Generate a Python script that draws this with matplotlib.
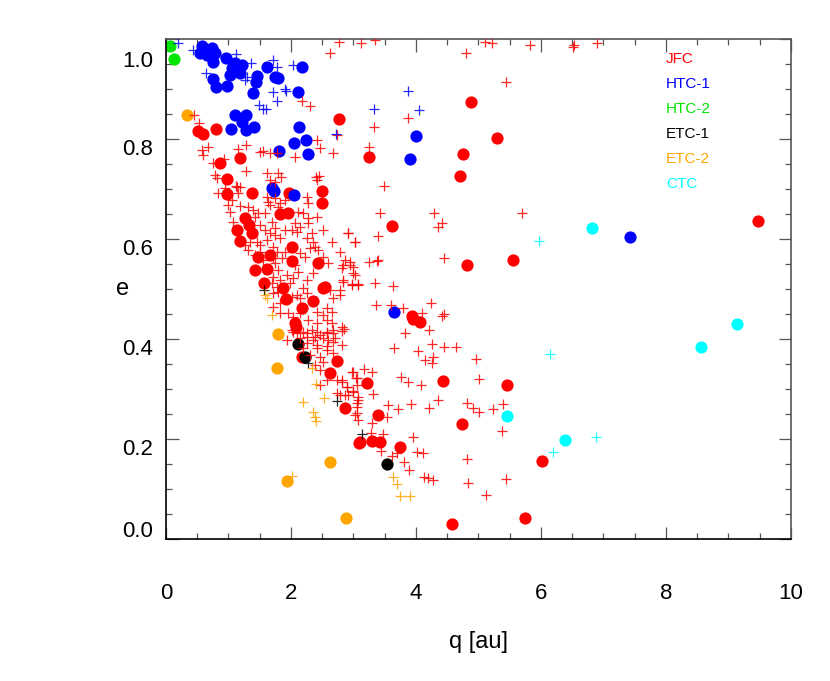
import matplotlib
matplotlib.use("Agg")
import matplotlib.pyplot as plt
import matplotlib.transforms as mtransforms
from matplotlib.ticker import MultipleLocator

plt.rcParams['font.family'] = ['Liberation Sans', 'DejaVu Sans']

# categories and colours
groups = ["JFC", "HTC-1", "HTC-2", "ETC-1", "ETC-2", "CTC"]
colors = ["#ff0000", "#0000ff", "#00e600", "#000000", "#ffa500", "#00ffff"]

# (q [au], e)
# big filled circles
jfc_dot = [(2.77, 0.840), (0.52, 0.815), (0.60, 0.809), (0.80, 0.819), (0.87, 0.751),
           (1.18, 0.761), (0.98, 0.719), (0.98, 0.689), (1.38, 0.691), (1.97, 0.692),
           (2.50, 0.695), (2.49, 0.671), (1.26, 0.641), (1.33, 0.627), (1.13, 0.617),
           (1.37, 0.612), (1.18, 0.596), (1.82, 0.649), (1.96, 0.651), (2.02, 0.584),
           (2.01, 0.556), (2.43, 0.551), (1.66, 0.567), (1.47, 0.563), (1.42, 0.537),
           (1.61, 0.539), (1.57, 0.511), (1.88, 0.501), (1.92, 0.479), (2.51, 0.501),
           (2.54, 0.504), (2.36, 0.475), (2.17, 0.462), (2.06, 0.431), (2.08, 0.424),
           (2.17, 0.364), (2.74, 0.355), (2.62, 0.331), (2.87, 0.261), (3.09, 0.192),
           (4.88, 0.873), (5.30, 0.801), (4.75, 0.769), (4.71, 0.725), (3.25, 0.763),
           (3.62, 0.625), (4.82, 0.547), (5.55, 0.557), (3.93, 0.445), (3.95, 0.439),
           (4.07, 0.434), (4.43, 0.315), (5.46, 0.307), (3.21, 0.312), (3.40, 0.247),
           (4.74, 0.229), (3.10, 0.193), (3.30, 0.195), (3.42, 0.193), (3.75, 0.184),
           (6.02, 0.156), (4.58, 0.029), (5.75, 0.042), (9.48, 0.636)]
htc1_dot = [(0.57, 0.985), (0.73, 0.981), (0.54, 0.971), (0.65, 0.967), (0.78, 0.971),
            (0.76, 0.954), (0.96, 0.961), (1.10, 0.951), (1.21, 0.947), (1.05, 0.941),
            (1.18, 0.931), (1.02, 0.927), (0.76, 0.919), (0.80, 0.904), (0.98, 0.905),
            (1.45, 0.925), (1.44, 0.914), (1.39, 0.891), (1.62, 0.943), (1.74, 0.924),
            (1.80, 0.921), (2.18, 0.943), (2.11, 0.893), (1.10, 0.847), (1.28, 0.847),
            (1.04, 0.820), (1.28, 0.817), (1.41, 0.823), (1.21, 0.834), (2.13, 0.823),
            (2.24, 0.797), (2.05, 0.791), (1.81, 0.776), (2.28, 0.769), (1.69, 0.701),
            (1.73, 0.696), (2.05, 0.687), (4.00, 0.805), (3.91, 0.760), (3.65, 0.453),
            (7.42, 0.603)]
htc2_dot = [(0.06, 0.985), (0.13, 0.959)]
etc1_dot = [(2.11, 0.389), (2.23, 0.364), (3.54, 0.149)]
etc2_dot = [(0.34, 0.848), (1.80, 0.409), (1.78, 0.342), (2.62, 0.154), (1.94, 0.116),
            (2.88, 0.041)]
ctc_dot = [(6.82, 0.621), (5.46, 0.246), (6.39, 0.197), (8.56, 0.383), (9.13, 0.429)]

# small crosses
jfc_plus = [
    (2.77, 0.994), (2.63, 0.972), (0.45, 0.848), (0.53, 0.832), (0.57, 0.777), (0.68, 0.784),
    (0.60, 0.767), (0.76, 0.751), (0.93, 0.759), (1.15, 0.779), (1.28, 0.787), (1.50, 0.774),
    (1.56, 0.776), (0.78, 0.727), (0.81, 0.721), (1.28, 0.736), (1.66, 0.771), (1.77, 0.771),
    (2.06, 0.763), (2.17, 0.875), (2.30, 0.865), (2.42, 0.797), (2.46, 0.781), (2.67, 0.772),
    (2.73, 0.807), (1.62, 0.731), (1.80, 0.731), (1.84, 0.724), (2.40, 0.724), (2.45, 0.725),
    (0.84, 0.692), (0.94, 0.701), (1.12, 0.705), (1.18, 0.704), (1.16, 0.691), (1.66, 0.717),
    (1.74, 0.714), (1.61, 0.684),
    (1.13, 0.704), (1.05, 0.677), (1.00, 0.667), (1.18, 0.665), (1.32, 0.664), (1.40, 0.657),
    (1.02, 0.654), (1.64, 0.674), (1.74, 0.681), (1.66, 0.667), (1.82, 0.671), (1.90, 0.677),
    (1.80, 0.663), (2.25, 0.684), (2.28, 0.671), (2.41, 0.717), (1.48, 0.651), (1.58, 0.651),
    (1.69, 0.634), (1.74, 0.621), (1.50, 0.627), (1.58, 0.617), (1.66, 0.611), (2.12, 0.654),
    (2.20, 0.651), (2.28, 0.641), (2.06, 0.631), (2.14, 0.624), (2.09, 0.614), (2.41, 0.644),
    (2.28, 0.631), (1.90, 0.617), (2.01, 0.617), (1.74, 0.607), (1.82, 0.601), (1.08, 0.634),
    (1.42, 0.644), (1.34, 0.594), (1.26, 0.587), (1.45, 0.594), (1.50, 0.587), (1.32, 0.577),
    (1.50, 0.574), (1.42, 0.567), (1.61, 0.597), (1.72, 0.584), (1.77, 0.574), (1.90, 0.574),
    (1.56, 0.557), (1.72, 0.561), (1.85, 0.561), (2.33, 0.611), (2.52, 0.617), (2.25, 0.601),
    (2.36, 0.594), (2.38, 0.584), (2.30, 0.581), (2.44, 0.577), (2.65, 0.594), (2.78, 0.574),
    (2.92, 0.611), (3.02, 0.594), (2.14, 0.571), (2.22, 0.564), (2.06, 0.547), (2.12, 0.534),
    (2.36, 0.531), (2.25, 0.517), (2.52, 0.564), (2.60, 0.551), (2.86, 0.557), (2.81, 0.541),
    (2.94, 0.554), (3.00, 0.544), (3.02, 0.527), (2.84, 0.517), (2.97, 0.507), (3.08, 0.507),
    (1.74, 0.551), (1.80, 0.537), (1.72, 0.524), (1.69, 0.511), (1.77, 0.504), (1.82, 0.517),
    (1.93, 0.527), (2.04, 0.521), (1.98, 0.511), (1.72, 0.491), (1.80, 0.494), (1.82, 0.471),
    (1.72, 0.464), (2.01, 0.484), (2.09, 0.487), (2.14, 0.481), (2.20, 0.501), (2.25, 0.491),
    (2.62, 0.497), (2.68, 0.481), (2.78, 0.487), (2.57, 0.461), (2.65, 0.454), (1.82, 0.451),
    (1.96, 0.451), (2.04, 0.444), (2.14, 0.451), (2.28, 0.437), (2.41, 0.454), (2.52, 0.447),
    (2.41, 0.431), (2.57, 0.437), (2.65, 0.431), (2.81, 0.424), (2.01, 0.417), (2.09, 0.411),
    (2.14, 0.401), (2.25, 0.411), (2.33, 0.417), (2.38, 0.404), (2.46, 0.407), (2.57, 0.411),
    (2.60, 0.397), (2.68, 0.417), (2.70, 0.401), (1.93, 0.397), (2.25, 0.391), (2.41, 0.387),
    (2.57, 0.385), (2.20, 0.381),
    (2.04, 0.414), (2.20, 0.414), (2.41, 0.414), (2.57, 0.414), (2.68, 0.411), (2.81, 0.415),
    (2.25, 0.404), (2.36, 0.397), (2.52, 0.401), (2.68, 0.394), (2.81, 0.387), (2.41, 0.381),
    (2.57, 0.377), (2.30, 0.367), (2.46, 0.364), (2.68, 0.371), (2.52, 0.354), (2.38, 0.347),
    (2.46, 0.337), (2.57, 0.317), (2.73, 0.317), (2.81, 0.314), (2.97, 0.334), (3.05, 0.321),
    (2.46, 0.307), (2.89, 0.304), (3.05, 0.307), (2.73, 0.291), (2.86, 0.287), (3.00, 0.294),
    (3.08, 0.284), (3.05, 0.264), (3.05, 0.251), (3.08, 0.237),
    (3.12, 0.992), (3.34, 0.997), (4.80, 0.971), (5.11, 0.994), (5.22, 0.992), (5.82, 0.987),
    (6.53, 0.987), (6.52, 0.984), (6.89, 0.992), (5.44, 0.913), (3.88, 0.842), (3.33, 0.824),
    (3.25, 0.783), (3.49, 0.705), (3.42, 0.651), (4.29, 0.651), (4.42, 0.632), (4.36, 0.623),
    (5.70, 0.651), (2.91, 0.611), (3.02, 0.593), (3.39, 0.605), (3.39, 0.557), (3.25, 0.553),
    (4.45, 0.561),
    (3.38, 0.555), (2.84, 0.547), (2.94, 0.547), (3.00, 0.531), (2.84, 0.514), (2.97, 0.509),
    (3.08, 0.509), (2.78, 0.497), (3.34, 0.512), (3.63, 0.506), (3.36, 0.467), (3.60, 0.467),
    (3.80, 0.462), (4.09, 0.452), (4.24, 0.471), (4.41, 0.445), (4.45, 0.449), (2.85, 0.419),
    (3.82, 0.411), (4.21, 0.417), (3.65, 0.381), (4.03, 0.376), (4.25, 0.389), (4.45, 0.384),
    (4.64, 0.384), (4.14, 0.357), (4.27, 0.364), (4.25, 0.352), (4.96, 0.359), (2.99, 0.334),
    (3.17, 0.339), (3.29, 0.334), (3.04, 0.321), (2.81, 0.317), (2.90, 0.304), (3.00, 0.296),
    (2.78, 0.287), (3.08, 0.277), (2.92, 0.287), (3.32, 0.289), (3.76, 0.324), (3.88, 0.314),
    (4.08, 0.307), (5.01, 0.319), (3.05, 0.271), (2.86, 0.264), (3.02, 0.247), (3.56, 0.267),
    (3.72, 0.259), (3.92, 0.269), (4.21, 0.262), (4.36, 0.277), (4.82, 0.272), (4.91, 0.262),
    (5.01, 0.253), (5.24, 0.259), (5.39, 0.269), (3.29, 0.232), (3.54, 0.244), (3.28, 0.212),
    (3.48, 0.209), (3.95, 0.204), (5.38, 0.215), (3.44, 0.175), (3.61, 0.165), (3.70, 0.172),
    (4.02, 0.173), (4.12, 0.171), (3.81, 0.154), (3.89, 0.137), (4.13, 0.124), (4.20, 0.121),
    (4.28, 0.117), (4.82, 0.159), (4.84, 0.111), (5.44, 0.119), (5.12, 0.087)]
htc1_plus = [(0.20, 0.992), (0.44, 0.977), (1.12, 0.969), (1.36, 0.951), (1.72, 0.957),
             (1.78, 0.943), (2.03, 0.947), (0.64, 0.931), (1.30, 0.924), (1.26, 0.917),
             (1.72, 0.894), (1.77, 0.876), (1.90, 0.899), (1.92, 0.896), (1.49, 0.867),
             (1.60, 0.859), (1.56, 0.859), (2.72, 0.809), (3.87, 0.895), (3.33, 0.859),
             (4.05, 0.857)]
htc2_plus = []
etc1_plus = [(2.74, 0.276), (2.28, 0.351), (1.57, 0.497), (3.14, 0.209)]
etc2_plus = [(2.20, 0.274), (2.53, 0.281), (2.36, 0.254), (2.38, 0.243), (2.40, 0.236),
             (2.40, 0.309), (2.33, 0.341), (2.01, 0.125), (1.58, 0.487), (1.61, 0.481),
             (1.69, 0.447), (3.63, 0.123), (3.70, 0.109), (3.74, 0.086), (3.91, 0.085)]
ctc_plus = [(5.97, 0.596), (6.14, 0.369), (6.88, 0.204), (6.19, 0.173)]

dots = [jfc_dot, htc1_dot, htc2_dot, etc1_dot, etc2_dot, ctc_dot]
pluses = [jfc_plus, htc1_plus, htc2_plus, etc1_plus, etc2_plus, ctc_plus]

fig = plt.figure(figsize=(8.3, 6.81), dpi=100)
ax = fig.add_axes([0.2, 0.209, 0.753, 0.734])

for d, c in zip(dots, colors):
    if d:
        q, e = zip(*d)
        ax.plot(q, e, 'o', color=c, markersize=8.8, markeredgewidth=0, zorder=2)
for p, c in zip(pluses, colors):
    if p:
        q, e = zip(*p)
        ax.plot(q, e, '+', color=c, markersize=6.5, markeredgewidth=0.9, alpha=0.85, zorder=3)

# legend as coloured text
for i, (g, c) in enumerate(zip(groups, colors)):
    ax.text(8.0, 0.96 - 0.05 * i, g, color=c, fontsize=11, va='center', ha='left')

ax.set_xlim(0, 10)
ax.set_ylim(0, 1.0)
ax.xaxis.set_major_locator(MultipleLocator(2))
ax.xaxis.set_minor_locator(MultipleLocator(0.5))
ax.yaxis.set_major_locator(MultipleLocator(0.2))
ax.yaxis.set_minor_locator(MultipleLocator(0.05))
ax.set_yticks([0, 0.2, 0.4, 0.6, 0.8, 1.0])
ax.set_yticklabels(["0.0", "0.2", "0.4", "0.6", "0.8", "1.0"])

ax.tick_params(which='both', direction='in', top=True, right=True, color='#555555', width=0.9)
ax.tick_params(which='major', length=9)
ax.tick_params(which='minor', length=4.5)
ax.tick_params(axis='x', which='major', pad=32, labelsize=16)
ax.tick_params(axis='y', which='major', pad=9.5, labelsize=16)
for s in ['left', 'bottom']:
    ax.spines[s].set_color('black')
    ax.spines[s].set_linewidth(1.2)
for s in ['top', 'right']:
    ax.spines[s].set_color('#555555')
    ax.spines[s].set_linewidth(1.2)

# y labels sit a little below their ticks, the end ones pulled inward
shifts = [10, -8, -8, -8, -8, -20]
for lab, dy in zip(ax.get_yticklabels(), shifts):
    off = mtransforms.ScaledTranslation(0, dy / 100.0, fig.dpi_scale_trans)
    lab.set_transform(lab.get_transform() + off)

ax.set_xlabel("q [au]", fontsize=17)
ax.xaxis.set_label_coords(0.5, -0.184)
ax.set_ylabel("e", fontsize=17, rotation=0, va='center', ha='center')
ax.yaxis.set_label_coords(-0.069, 0.5)

plt.savefig("out.png", dpi=100)
